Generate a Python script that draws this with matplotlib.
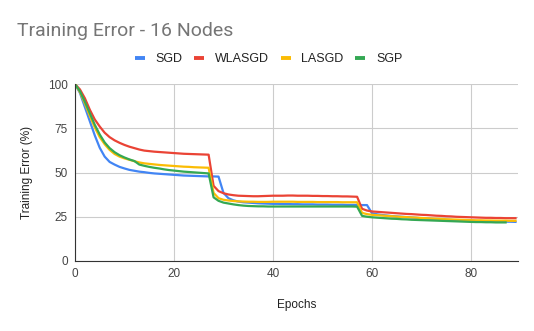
import matplotlib
matplotlib.use("Agg")
import matplotlib.pyplot as plt

plt.rcParams['font.family'] = ['Liberation Sans', 'DejaVu Sans']

# =======================
# DATA
# =======================
sgd = [100, 95, 87, 79, 71, 64, 59, 56, 54.5, 53.2,
       52.3, 51.5, 51.0, 50.5, 50.2, 49.8, 49.5, 49.3, 49.1, 48.9,
       48.7, 48.5, 48.3, 48.2, 48.1, 48.0, 47.9, 47.8, 47.8, 47.7,
       38.5, 35.5, 34.3, 33.6, 33.2, 33.0, 32.8, 32.6, 32.5, 32.4,
       32.3, 32.3, 32.2, 32.2, 32.1, 32.1, 32.0, 32.0, 32.0, 31.9,
       31.9, 31.9, 31.8, 31.8, 31.8, 31.7, 31.7, 31.7, 31.6, 31.6,
       27.0, 26.4, 26.0, 25.7, 25.4, 25.2, 25.0, 24.8, 24.6, 24.4,
       24.2, 24.0, 23.8, 23.6, 23.5, 23.3, 23.2, 23.0, 22.9, 22.8,
       22.7, 22.6, 22.5, 22.4, 22.4, 22.3, 22.3, 22.2, 22.2, 22.1]

wlasgd = [100, 97, 92, 85.5, 80, 76, 72.5, 70, 68.2, 66.8,
          65.6, 64.6, 63.8, 63.0, 62.4, 62.1, 61.8, 61.6, 61.4, 61.2,
          61.0, 60.8, 60.6, 60.5, 60.4, 60.3, 60.2, 60.1, 42.5, 39.5,
          38.3, 37.6, 37.2, 36.9, 36.8, 36.7, 36.6, 36.6, 36.7, 36.8,
          36.9, 36.9, 36.9, 37.0, 37.0, 36.9, 36.9, 36.9, 36.8, 36.8,
          36.7, 36.7, 36.6, 36.6, 36.5, 36.5, 36.4, 36.3, 29.5, 28.5,
          28.0, 27.8, 27.6, 27.4, 27.2, 27.0, 26.8, 26.6, 26.5, 26.3,
          26.1, 26.0, 25.8, 25.6, 25.5, 25.3, 25.2, 25.0, 24.9, 24.8,
          24.7, 24.6, 24.5, 24.4, 24.4, 24.3, 24.3, 24.2, 24.2, 24.2]

lasgd = [100, 95.5, 89, 82, 75.5, 70, 66, 62.8, 60.5, 59.0,
         58.0, 57.2, 56.4, 55.7, 55.2, 54.9, 54.6, 54.3, 54.1, 53.9,
         53.7, 53.5, 53.3, 53.2, 53.0, 52.9, 52.8, 52.7, 38.5, 35.5,
         34.6, 34.2, 33.9, 33.7, 33.6, 33.5, 33.5, 33.4, 33.4, 33.4,
         33.5, 33.5, 33.5, 33.5, 33.5, 33.4, 33.4, 33.4, 33.4, 33.3,
         33.3, 33.3, 33.3, 33.3, 33.2, 33.2, 33.2, 33.2, 27.2, 26.5,
         26.1, 25.9, 25.7, 25.5, 25.3, 25.1, 24.9, 24.8, 24.6, 24.5,
         24.3, 24.2, 24.0, 23.9, 23.8, 23.6, 23.5, 23.4, 23.3, 23.2,
         23.1, 23.0, 23.0, 22.9, 22.9, 22.8, 22.8, 22.8, 22.7, 22.7]

sgp = [100, 96, 90, 83.5, 77, 71.5, 67, 63.8, 61.5, 59.8,
       58.5, 57.4, 56.5, 54.5, 53.8, 53.2, 52.7, 52.3, 51.8, 51.4,
       51.1, 50.8, 50.5, 50.3, 50.1, 49.9, 49.7, 49.5, 36.0, 34.0,
       33.0, 32.5, 32.0, 31.6, 31.3, 31.1, 31.0, 30.9, 30.9, 30.8,
       30.8, 30.8, 30.8, 30.8, 30.8, 30.8, 30.8, 30.8, 30.8, 30.8,
       30.8, 30.8, 30.8, 30.8, 30.8, 30.8, 30.8, 30.7, 25.5, 25.0,
       24.7, 24.5, 24.3, 24.1, 23.9, 23.8, 23.6, 23.5, 23.3, 23.2,
       23.1, 23.0, 22.9, 22.8, 22.7, 22.6, 22.5, 22.4, 22.3, 22.2,
       22.1, 22.0, 22.0, 21.9, 21.9, 21.8, 21.8, 21.8]

series = [("SGD", sgd, "#4285F4"),
          ("WLASGD", wlasgd, "#EA4335"),
          ("LASGD", lasgd, "#FBBC04"),
          ("SGP", sgp, "#34A853")]

# =======================
# PLOT
# =======================
fig = plt.figure(figsize=(5.34, 3.31), dpi=100)
ax = fig.add_axes([0.1404, 0.2115, 0.8296, 0.5345])

for name, vals, col in series:
    ax.plot(range(len(vals)), vals, color=col, lw=1.6, label=name)

ax.set_xlim(0, 89.5)
ax.set_ylim(0, 100)
ax.set_xticks([0, 20, 40, 60, 80])
ax.set_yticks([0, 25, 50, 75, 100])
ax.grid(True, color="#cccccc", lw=0.8)
ax.set_axisbelow(True)
for s in ["top", "right"]:
    ax.spines[s].set_visible(False)
ax.spines["left"].set_color("#333333")
ax.spines["bottom"].set_color("#333333")
ax.tick_params(length=0, labelsize=8.5, labelcolor="#444444", pad=5)

ax.set_xlabel("Epochs", fontsize=8.5, color="#222222", labelpad=14)
ax.set_ylabel("Training Error (%)", fontsize=8.5, color="#222222", labelpad=11)

fig.text(0.032, 0.905, "Training Error - 16 Nodes", fontsize=14, color="#757575",
         va="center", family=["Roboto", "DejaVu Sans"])
leg = fig.legend(loc="center", bbox_to_anchor=(0.503, 0.822), ncol=4, frameon=False,
                 fontsize=9, handlelength=0.8, handletextpad=0.85, columnspacing=0.95)
for h in leg.get_lines():
    h.set_linewidth(2.8)
    h.set_solid_capstyle("butt")
for t in leg.get_texts():
    t.set_color("#222222")

plt.savefig("out.png", dpi=100)
